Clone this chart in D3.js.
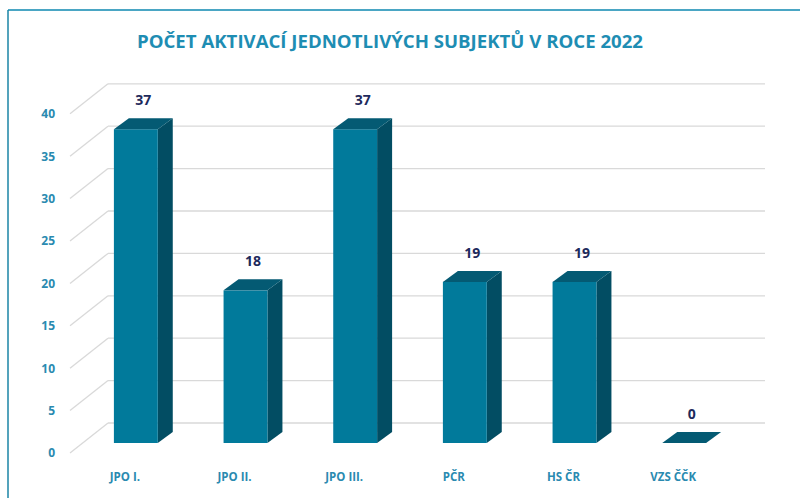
<!DOCTYPE html>
<html>
<head>
<meta charset="utf-8">
<script src="https://cdn.jsdelivr.net/npm/d3@7"></script>
<style>
  body { margin: 0; background: #fff; }
  svg { display: block; font-family: "Open Sans", "DejaVu Sans", sans-serif; }
</style>
</head>
<body>
<svg id="chart"></svg>
<script>
// data
const categories = ['JPO I.', 'JPO II.', 'JPO III.', 'PČR', 'HS ČR', 'VZS ČČK'];
const values = [37, 18, 37, 19, 19, 0];
const yTicks = [0, 5, 10, 15, 20, 25, 30, 35, 40];
const title = 'POČET AKTIVACÍ JEDNOTLIVÝCH SUBJEKTŮ V ROCE 2022';

const width = 800, height = 498;

// 3d offsets
const depth = {dx: 15, dy: -11};      // bar depth
const wallBack = {dx: 33, dy: -20};   // bar front plane -> back wall
const wallFront = {dx: -5, dy: 10};   // bar front plane -> front edge

const svg = d3.select('#chart')
    .attr('width', width)
    .attr('height', height);

// frame lines
svg.append('line')
    .attr('x1', 8).attr('y1', 10).attr('x2', width).attr('y2', 10)
    .attr('stroke', '#4aa6c4').attr('stroke-width', 2);
svg.append('line')
    .attr('x1', 8).attr('y1', 10).attr('x2', 8).attr('y2', height)
    .attr('stroke', '#1b84a6').attr('stroke-width', 1.5);

// title
svg.append('text')
    .attr('x', 137)
    .attr('y', 48)
    .attr('textLength', 506)
    .attr('lengthAdjust', 'spacingAndGlyphs')
    .attr('fill', '#1e8db3')
    .attr('font-size', 18)
    .attr('font-weight', 700)
    .text(title);

// scales
const xScale = d3.scaleBand()
    .domain(categories)
    .range([81, 739])
    .paddingInner(0.6)
    .paddingOuter(0.3);

const yScale = d3.scaleLinear()
    .domain([0, 40])
    .range([443, 443 - 40 * 8.48]);

// back wall gridlines
const grid = svg.append('g').attr('class', 'grid');
grid.selectAll('.hline')
    .data(yTicks)
    .join('line')
    .attr('class', 'hline')
    .attr('x1', 108)
    .attr('x2', 765)
    .attr('y1', d => yScale(d) + wallBack.dy)
    .attr('y2', d => yScale(d) + wallBack.dy)
    .attr('stroke', '#d9d9d9')
    .attr('stroke-width', 1.3);

// side wall diagonals
grid.selectAll('.dline')
    .data(yTicks)
    .join('line')
    .attr('class', 'dline')
    .attr('x1', 70)
    .attr('x2', 108)
    .attr('y1', d => yScale(d) + wallFront.dy)
    .attr('y2', d => yScale(d) + wallBack.dy)
    .attr('stroke', '#d9d9d9')
    .attr('stroke-width', 1.3);

// y axis labels
const yAxis = d3.axisLeft(yScale)
    .tickValues(yTicks)
    .tickSize(0)
    .tickPadding(0);

svg.append('g')
    .attr('class', 'axis y-axis')
    .attr('transform', `translate(55,${wallFront.dy})`)
    .call(yAxis)
    .call(g => g.select('.domain').remove())
    .call(g => g.selectAll('text')
        .attr('fill', '#2a8ab0')
        .attr('font-size', 12)
        .attr('font-weight', 700)
        .attr('font-family', '"Open Sans", sans-serif'));

// x axis labels
const xAxis = d3.axisBottom(xScale)
    .tickSize(0)
    .tickPadding(0);

svg.append('g')
    .attr('class', 'axis x-axis')
    .attr('transform', `translate(-11,473)`)
    .call(xAxis)
    .call(g => g.select('.domain').remove())
    .call(g => g.selectAll('text')
        .attr('fill', '#2a8ab0')
        .attr('font-size', 11.5)
        .attr('font-weight', 700)
        .attr('font-family', '"Open Sans", sans-serif'));

// bars
const bars = svg.append('g')
    .selectAll('.bar')
    .data(categories.map((c, i) => ({cat: c, value: values[i]})))
    .join('g')
    .attr('class', 'bar');

const x0 = d => xScale(d.cat);
const x1 = d => xScale(d.cat) + xScale.bandwidth();
const yTop = d => yScale(d.value);
const y0 = yScale(0);

// side face
bars.filter(d => d.value > 0)
    .append('polygon')
    .attr('points', d => [
        [x1(d), yTop(d)],
        [x1(d) + depth.dx, yTop(d) + depth.dy],
        [x1(d) + depth.dx, y0 + depth.dy],
        [x1(d), y0]
    ].join(' '))
    .attr('fill', '#024d63');

// front face
bars.filter(d => d.value > 0)
    .append('rect')
    .attr('x', d => x0(d))
    .attr('y', d => yTop(d))
    .attr('width', xScale.bandwidth())
    .attr('height', d => y0 - yTop(d))
    .attr('fill', '#017a9b');

// top face
bars.append('polygon')
    .attr('points', d => [
        [x0(d), yTop(d)],
        [x0(d) + depth.dx, yTop(d) + depth.dy],
        [x1(d) + depth.dx, yTop(d) + depth.dy],
        [x1(d), yTop(d)]
    ].join(' '))
    .attr('fill', '#045a73');

// value labels
bars.append('text')
    .attr('x', d => x0(d) + xScale.bandwidth() / 2 + depth.dx / 2)
    .attr('y', d => yTop(d) + depth.dy - 13)
    .attr('text-anchor', 'middle')
    .attr('fill', '#1d2a5c')
    .attr('font-size', 14)
    .attr('font-weight', 700)
    .text(d => d.value);
</script>
</body>
</html>
